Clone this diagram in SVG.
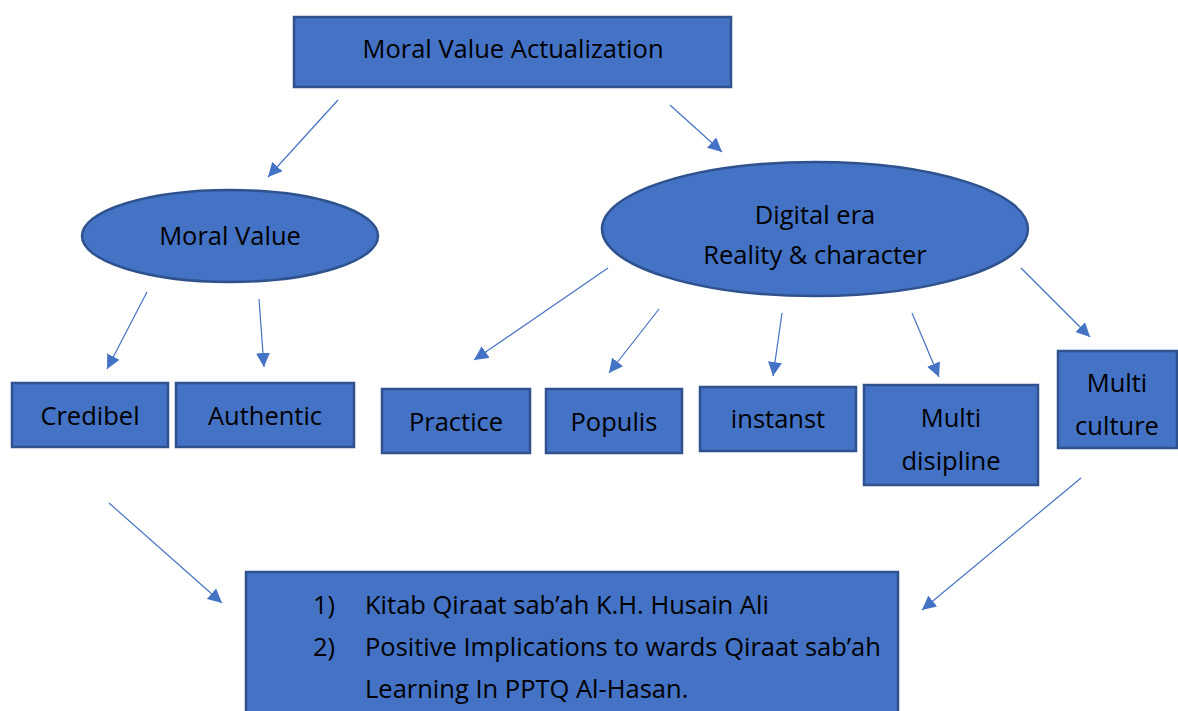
<svg xmlns="http://www.w3.org/2000/svg" width="1178" height="711" viewBox="0 0 1178 711">
<style>
.n{fill:#4472C4;stroke:#2F528F;stroke-width:2.5}
.t{font-family:"Open Sans",Lato,sans-serif;font-size:25.5px;fill:#000;text-anchor:middle}
.tl{font-family:"Open Sans",Lato,sans-serif;font-size:25.5px;fill:#000}
.c line{stroke:#4472C4;stroke-width:1.2;marker-end:url(#ah)}
</style>
<defs>
<marker id="ah" viewBox="0 0 10 10" refX="10" refY="5" markerWidth="14" markerHeight="14" markerUnits="userSpaceOnUse" orient="auto">
<path d="M0,0 L10,5 L0,10 Z" fill="#4472C4"/>
</marker>
</defs>
<rect width="1178" height="711" fill="#fff"/>
<g class="c">
<line x1="338" y1="100" x2="268" y2="177"/>
<line x1="670" y1="105" x2="722" y2="152"/>
<line x1="147" y1="292" x2="107" y2="369"/>
<line x1="259" y1="299" x2="264" y2="367"/>
<line x1="608" y1="268" x2="474" y2="360"/>
<line x1="659" y1="309" x2="609" y2="373"/>
<line x1="782" y1="313" x2="773" y2="376"/>
<line x1="912" y1="313" x2="939" y2="377"/>
<line x1="1021" y1="268" x2="1090" y2="337"/>
<line x1="109" y1="503" x2="222" y2="603"/>
<line x1="1081" y1="478" x2="922" y2="610"/>
</g>
<g id="top"><rect class="n" x="294" y="17" width="437" height="70"/><text class="t" x="513" y="58">Moral Value Actualization</text></g>
<g id="moral"><ellipse class="n" cx="230" cy="236" rx="148" ry="46"/><text class="t" x="230" y="245">Moral Value</text></g>
<g id="digital"><ellipse class="n" cx="815" cy="229" rx="213" ry="67"/><text class="t" x="815" y="224">Digital era</text><text class="t" x="815" y="264">Reality &amp; character</text></g>
<g id="credibel"><rect class="n" x="12" y="383" width="156" height="64"/><text class="t" x="90" y="425">Credibel</text></g>
<g id="authentic"><rect class="n" x="176" y="383" width="178" height="64"/><text class="t" x="265" y="425">Authentic</text></g>
<g id="practice"><rect class="n" x="382" y="389" width="148" height="64"/><text class="t" x="456" y="431">Practice</text></g>
<g id="populis"><rect class="n" x="546" y="389" width="136" height="64"/><text class="t" x="614" y="431">Populis</text></g>
<g id="instanst"><rect class="n" x="700" y="387" width="156" height="64"/><text class="t" x="778" y="428">instanst</text></g>
<g id="multidisipline"><rect class="n" x="864" y="385" width="174" height="100"/><text class="t" x="951" y="427">Multi</text><text class="t" x="951" y="470">disipline</text></g>
<g id="multiculture"><rect class="n" x="1058" y="351" width="119" height="97"/><text class="t" x="1117" y="392">Multi</text><text class="t" x="1117" y="435">culture</text></g>
<g id="result"><rect class="n" x="246" y="572" width="652" height="150"/>
<text class="tl" x="313" y="614">1)</text><text class="tl" x="365" y="614">Kitab Qiraat sab’ah K.H. Husain Ali</text>
<text class="tl" x="313" y="656">2)</text><text class="tl" x="365" y="656">Positive Implications to wards Qiraat sab’ah</text>
<text class="tl" x="365" y="698">Learning In PPTQ Al-Hasan.</text>
</g>
</svg>
